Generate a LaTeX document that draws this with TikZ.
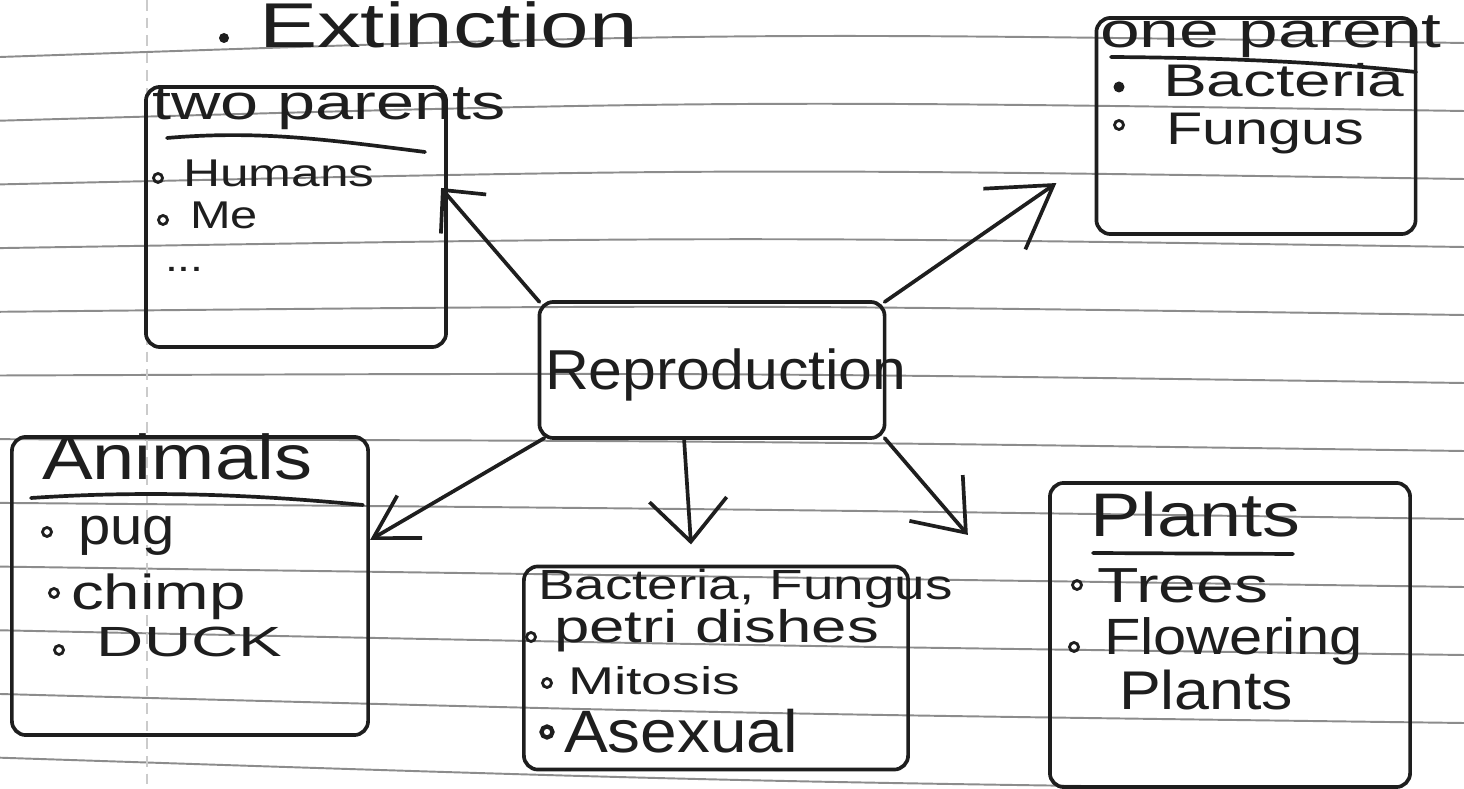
\documentclass[tikz,border=0pt]{standalone}
\usepackage{fontspec}
\usepackage{graphicx}
\setmainfont{Liberation Sans}
\usetikzlibrary{arrows.meta}
\definecolor{ink}{HTML}{1E1E1E}
\definecolor{rulec}{HTML}{8C8C8C}
\newcommand\hw[3]{\fontsize{#1}{#1}\selectfont\scalebox{#2}[1]{#3}}
\begin{document}
\begin{tikzpicture}[x=0.01cm,y=-0.01cm,
  rule/.style={draw=rulec,line width=0.55pt},
  box/.style={draw=ink,line width=1.05pt,rectangle,rounded corners=4pt,inner sep=0pt,outer sep=0pt},
  txt/.style={anchor=base west,inner sep=0pt,outer sep=0pt,text=ink},
  uline/.style={draw=ink,line width=1.05pt,line cap=round},
  hole/.style={draw=ink,line width=0.8pt},
  dotb/.style={fill=ink},
  conn/.style={draw=ink,line width=1.05pt,line cap=round,line join=round}]
\fill[white] (0,0) rectangle (1464,789);
\useasboundingbox (0,0) rectangle (1464,789);
% ruled paper
\foreach \k in {0,...,11}{
  \pgfmathsetmacro\yl{57+63.7*\k}
  \pgfmathsetmacro\yr{43+68*\k}
  \pgfmathsetmacro\yc{2*(41+67*\k)-(\yl+\yr)/2}
  \draw[rule] (0,\yl) .. controls (732,\yc) .. (1464,\yr);
}
\draw[rulec!45,line width=0.5pt,densely dashed] (147,0) -- (147,789);

% boxes
\node[box,minimum width=3.00cm,minimum height=2.60cm] (twop) at (296,217) {};
\node[box,minimum width=3.19cm,minimum height=2.16cm] (onep) at (1256,126) {};
\node[box,minimum width=3.45cm,minimum height=1.36cm] (repro) at (712,370) {};
\node[box,minimum width=3.56cm,minimum height=2.98cm] (anim) at (190,586) {};
\node[box,minimum width=3.84cm,minimum height=2.03cm] (bactbox) at (716,668) {};
\node[box,minimum width=3.60cm,minimum height=3.04cm] (plant) at (1230,635) {};

% texts
\fill[dotb] (224,38) circle (5);
\node[txt] (ext) at (259,48) {\hw{18}{1.38}{Extinction}};

\node[txt] (twot) at (152,120) {\hw{14}{1.39}{two parents}};
\draw[uline] (167,138) .. controls (260,130) and (330,140) .. (425,152);
\draw[hole] (158,178) circle (4.5);
\node[txt] (hum) at (183,187) {\hw{11}{1.33}{Humans}};
\draw[hole] (163,220) circle (4.5);
\node[txt] (me) at (190,229) {\hw{11}{1.26}{Me}};
\node[txt] (dots) at (165,272) {\hw{11}{1.2}{...}};

\node[txt] (onet) at (1100,48) {\hw{14}{1.45}{one parent}};
\draw[uline] (1111,57) .. controls (1250,58) and (1340,64) .. (1416,72);
\fill[dotb] (1119,87) circle (5.5);
\node[txt] (bac1) at (1163,97) {\hw{13}{1.44}{Bacteria}};
\draw[hole] (1119,125) circle (4.5);
\node[txt] (fun1) at (1166,145) {\hw{13}{1.3}{Fungus}};

\node[txt] (rept) at (545,390) {\hw{16}{1.08}{Reproduction}};

\node[txt] (anit) at (42,480) {\hw{18}{1.2}{Animals}};
\draw[uline] (31,498) .. controls (150,490) and (260,495) .. (363,505);
\draw[hole] (47,532) circle (4.5);
\node[txt] (pug) at (78,545) {\hw{15}{1.1}{pug}};
\draw[hole] (54,593) circle (4.5);
\node[txt] (chimp) at (71,610) {\hw{14}{1.33}{chimp}};
\draw[hole] (59,650) circle (4.5);
\node[txt] (duck) at (97,657) {\hw{12}{1.55}{DUCK}};

\node[txt] (bactt) at (538,600) {\hw{12}{1.3}{Bacteria, Fungus}};
\draw[hole] (531,637) circle (4.5);
\node[txt] (petri) at (554,643) {\hw{13}{1.39}{petri dishes}};
\draw[hole] (547,683) circle (4.5);
\node[txt] (mit) at (568,695) {\hw{11}{1.43}{Mitosis}};
\draw[hole,line width=1.2pt] (547,732) circle (5.5);
\node[txt] (asex) at (564,752) {\hw{17}{1.1}{Asexual}};

\node[txt] (plt) at (1090,537) {\hw{17.5}{1.23}{Plants}};
\draw[uline] (1093,553) -- (1293,554);
\draw[hole] (1077,585) circle (4.5);
\node[txt] (trees) at (1097,603) {\hw{14}{1.38}{Trees}};
\draw[hole] (1074,647) circle (4.5);
\node[txt] (flow) at (1104,655) {\hw{14.5}{1.17}{Flowering}};
\node[txt] (plt2) at (1119,710) {\hw{15.5}{1.15}{Plants}};

% connectors
\draw[conn,-{Straight Barb[length=9pt,width=17pt]}] (repro.north west) -- ([xshift=-0.05cm,yshift=0.29cm]twop.east);
\draw[conn,-{Straight Barb[length=17pt,width=21pt]}] (repro.north east) -- ([xshift=-0.40cm,yshift=-0.57cm]onep.west);
\draw[conn,-{Straight Barb[length=12pt,width=14pt]}] ([xshift=0.05cm]repro.south west) -- ([xshift=0.02cm,yshift=0.46cm]anim.east);
\draw[conn,-{Straight Barb[length=12pt,width=22pt]}] ([xshift=-0.28cm]repro.south) -- ([xshift=-0.25cm,yshift=0.22cm]bactbox.north);
\draw[conn,-{Straight Barb[length=13pt,width=20pt]}] (repro.south east) -- ([xshift=-0.82cm,yshift=-0.52cm]plant.north west);
\end{tikzpicture}
\end{document}
